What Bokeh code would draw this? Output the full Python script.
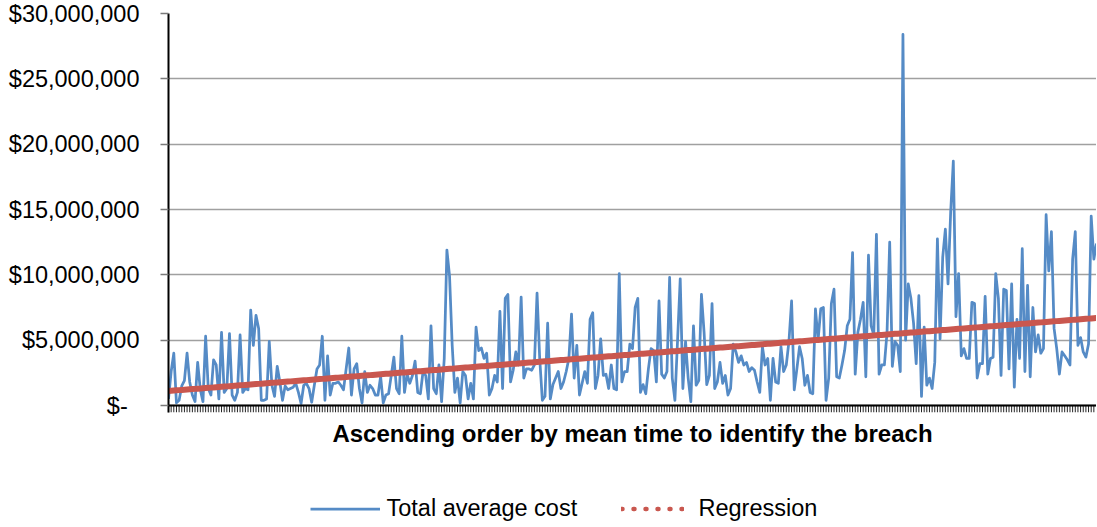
import numpy as np
from bokeh.plotting import figure
from bokeh.layouts import column
from bokeh.models import Range1d, FixedTicker, Legend, LegendItem, Span
from bokeh.embed import file_html
from bokeh.resources import INLINE

# ---- data (values in $ millions) ----
cost_part1 = [0.5, 2.6, 4.0, 0.2, 0.4, 1.5, 1.9, 4.0, 1.8, 0.8, 0.3, 3.3, 1.2, 0.3, 5.3, 1.3, 0.8, 3.5, 3.1, 0.5,
              5.6, 1.0, 1.3, 5.5, 0.8, 0.4, 1.0, 5.4, 1.0, 1.3, 1.2, 7.3, 4.6, 6.9, 5.9, 0.4, 0.4, 0.5, 4.9, 1.55,
              0.7, 3.0, 1.8, 0.4, 1.5, 1.2, 1.3, 1.4, 1.7, 1.0, 0.15, 1.55, 1.7, 1.3, 0.25, 1.55, 2.8, 3.1, 5.3, 0.4,
              3.8, 0.8, 1.7, 1.7, 1.8, 1.55, 1.2, 2.8, 4.4, 0.8, 2.8, 3.2, 1.3, 0.2, 2.6, 1.0, 1.55, 1.3, 0.8, 0.8,
              2.2, 0.2, 0.8]
cost_part2 = [0.9, 2.3, 3.7, 1.3, 0.9, 5.3, 1.0, 2.4, 1.7, 2.3, 3.4, 1.0, 0.9, 2.6, 2.3, 0.5, 6.1, 1.3, 0.9,
              3.1, 0.3, 3.6, 11.9, 9.9, 4.6, 1.0, 2.1, 0.2, 2.6, 2.3, 0.5, 1.7, 0.5, 6.0, 4.2, 4.4, 3.6, 4.0, 0.8,
              1.3, 2.3, 1.8, 7.2, 1.3, 8.2, 8.5, 1.8, 2.7, 4.1, 3.1, 8.3, 2.1, 2.8, 2.8, 2.7, 3.1, 8.6, 3.6, 0.4,
              0.7, 6.3, 0.5, 1.6, 2.1, 2.6, 1.3, 1.8, 2.6, 3.6, 7.0, 2.1, 4.6, 0.8, 1.7, 2.6, 1.7, 6.6, 7.1, 1.3,
              2.3, 5.1, 2.3, 2.4, 1.3, 3.1, 1.3, 1.2, 10.1, 1.8]
cost_part3 = [2.6, 2.6, 4.7, 4.35, 7.5, 8.2, 1.0, 1.6, 0.9, 2.8, 4.35, 4.2, 1.8, 8.0, 2.4, 2.1, 2.6, 9.8, 2.1, 0.4,
              5.0, 9.7, 1.3, 4.9, 2.1, 0.3, 6.1, 1.55, 1.9, 8.5, 5.6, 1.6, 2.3, 7.8, 1.3, 1.8, 3.3, 1.7, 2.3, 0.8,
              1.3, 4.7, 4.1, 3.3, 3.8, 3.1, 3.3, 2.6, 2.9, 2.7, 1.8, 1.0, 4.5, 3.1, 3.6, 0.4, 3.6, 1.8, 1.7, 4.5,
              2.6, 3.1, 4.9, 8.0, 1.2, 2.8, 4.5, 3.6, 1.55, 2.3, 1.0, 0.9, 7.4, 5.0, 7.4, 7.5, 0.4, 2.1, 7.8, 8.9,
              2.2, 2.1, 3.1, 4.2, 6.1, 6.6, 11.7]
cost_part4 = [2.4, 5.6, 6.6, 7.9, 2.2, 11.5, 6.1, 5.4, 13.1, 2.4, 3.1, 3.1, 5.6, 12.5, 3.0, 4.9, 4.6, 2.6, 28.4, 5.0,
              9.3, 8.2, 6.3, 3.2, 8.4, 0.7, 6.0, 1.55, 2.1, 1.3, 3.3, 12.75, 5.1, 11.35, 13.5, 9.3, 14.8, 18.7, 6.8,
              10.1, 3.8, 4.35, 3.6, 3.6, 7.9, 7.8, 2.1, 3.2, 3.2, 8.35, 2.4, 3.6, 3.7, 10.1, 8.2, 2.3, 8.9, 8.8, 2.8,
              9.3, 1.4, 6.6, 3.6, 12.0, 2.6, 9.2, 2.2, 7.5, 4.1, 5.4, 4.0, 4.35, 14.6, 10.3, 13.3, 5.9, 4.35, 2.4,
              4.1, 3.8, 3.5, 3.1, 11.2, 13.3, 4.6, 5.2, 4.1, 3.7, 4.7, 14.5, 11.2, 12.4]
total_average_cost = cost_part1 + cost_part2 + cost_part3 + cost_part4

y_ticks = [0, 5, 10, 15, 20, 25, 30]
y_labels = ["$-\u2002", "$5,000,000", "$10,000,000", "$15,000,000", "$20,000,000", "$25,000,000", "$30,000,000"]
series_names = ["Total average cost", "Regression"]
x_title = "Ascending order by mean time to identify the breach"

# ---- derived ----
N = len(total_average_cost)
xs = np.arange(N)
coef = np.polyfit(xs, np.array(total_average_cost), 1)
regression = np.polyval(coef, xs)

FONT = "Liberation Sans"
BLUE = "#558BC6"
RED = "#C9574F"
LEFT = 168
FRAME_H = 399           # px, includes 7px of category tick marks below zero
TICK_PX = 7
y_lo = -30 * TICK_PX / (FRAME_H - TICK_PX)

p = figure(width=1096, height=485, output_backend="svg", toolbar_location=None,
           x_range=Range1d(0, N - 1), y_range=Range1d(y_lo, 30),
           min_border_left=LEFT, min_border_right=0, min_border_top=13, min_border_bottom=73)
p.outline_line_color = None

p.xgrid.visible = False
p.ygrid.grid_line_color = "#a0a0a0"
p.ygrid.grid_line_width = 1.5
p.ygrid.ticker = FixedTicker(ticks=y_ticks)

# y axis
p.yaxis.ticker = FixedTicker(ticks=y_ticks)
p.yaxis.major_label_overrides = {t: l for t, l in zip(y_ticks, y_labels)}
p.yaxis.major_label_text_font = FONT
p.yaxis.major_label_text_font_size = "23.5px"
p.yaxis.major_label_text_color = "black"
p.yaxis.major_label_standoff = 21
p.yaxis.major_tick_out = 8
p.yaxis.major_tick_in = 0
p.yaxis.major_tick_line_color = "#7a7a7a"
p.yaxis.major_tick_line_width = 1.5
p.yaxis.minor_tick_line_color = None
p.yaxis.axis_line_color = "black"
p.yaxis.axis_line_width = 2

# x axis: only the title; category tick marks drawn as segments below zero
p.xaxis.ticker = FixedTicker(ticks=[])
p.xaxis.axis_line_color = None
p.xaxis.major_tick_line_color = None
p.xaxis.minor_tick_line_color = None
p.xaxis.axis_label = x_title
p.xaxis.axis_label_text_font = FONT
p.xaxis.axis_label_text_font_size = "24px"
p.xaxis.axis_label_text_font_style = "bold"
p.xaxis.axis_label_text_color = "black"
p.xaxis.axis_label_standoff = 7

p.segment(x0=xs, y0=np.zeros(N), x1=xs, y1=np.full(N, y_lo), line_color="#222222", line_width=1)
p.add_layout(Span(location=0, dimension="width", line_color="black", line_width=2))

p.line(xs, total_average_cost, line_color=BLUE, line_width=2.75, line_join="round")
p.line(xs, regression, line_color=RED, line_width=6)

# legend strip below the chart (proxy renderers sit outside the strip's visible range)
q = figure(width=1096, height=41, output_backend="svg", toolbar_location=None,
           x_range=Range1d(0, 1), y_range=Range1d(0, 1),
           min_border_left=LEFT, min_border_right=0, min_border_top=0, min_border_bottom=0)
q.outline_line_color = None
q.axis.visible = False
q.grid.visible = False
proxy_x = [5, 6]
proxy_y = [5, 5]
leg_cost = q.line(x=proxy_x, y=proxy_y, line_color=BLUE, line_width=2.75)
leg_reg = q.line(x=proxy_x, y=proxy_y, line_color=RED, line_width=4.5, line_dash="1 11", line_cap="round")

common = dict(orientation="horizontal", glyph_height=25, label_height=25, padding=0, margin=0,
              border_line_color=None, background_fill_alpha=0,
              label_text_font=FONT, label_text_font_size="23.5px", label_text_color="black")
legend1 = Legend(items=[LegendItem(label=series_names[0], renderers=[leg_cost])],
                 location=(141.5, 4.5), glyph_width=70, label_standoff=7, **common)
legend2 = Legend(items=[LegendItem(label=series_names[1], renderers=[leg_reg])],
                 location=(452.5, 4.5), glyph_width=63, label_standoff=15, **common)
q.add_layout(legend1, "center")
q.add_layout(legend2, "center")

layout = column(p, q, spacing=0)
open("out.html", "w").write(file_html(layout, INLINE))
